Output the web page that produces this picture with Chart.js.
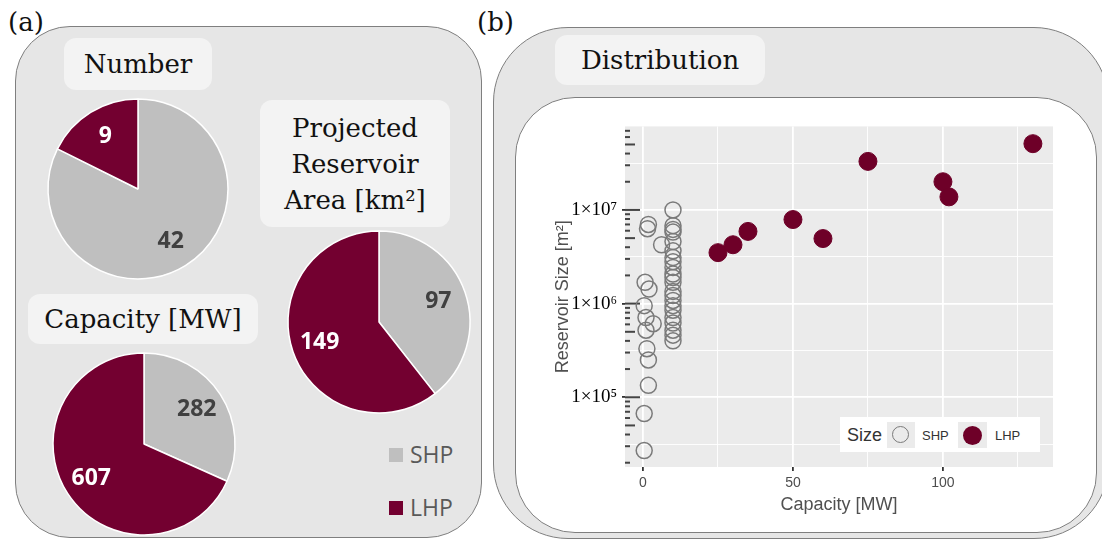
<!DOCTYPE html>
<html>
<head>
<meta charset="utf-8">
<script src="https://cdn.jsdelivr.net/npm/chart.js@4.4.1/dist/chart.umd.min.js"></script>
<style>
  body { margin: 0; width: 1102px; height: 540px; background: #fff; position: relative; overflow: hidden; font-family: 'Liberation Sans', Arial, sans-serif; }
  canvas { position: absolute; }
  .panel { position: absolute; background: #e6e6e6; border: 1.5px solid #7f7f7f; box-sizing: border-box; }
  .tag { position: absolute; font-family: 'DejaVu Serif', serif; font-size: 26px; line-height: 1; color: #111; }
  .box { position: absolute; background: #f3f3f3; border-radius: 12px; font-family: 'DejaVu Serif', serif; font-size: 26px; line-height: 36px; color: #111;
         display: flex; flex-direction: column; align-items: center; justify-content: center; text-align: center; }
  .leg { position: absolute; font-family: 'Open Sans', sans-serif; font-size: 23px; color: #595959; line-height: 1; }
  .sq { position: absolute; width: 14px; height: 14px; }
</style>
</head>
<body>

<div class="tag" style="left:8px; top:9px;">(a)</div>
<div class="tag" style="left:477px; top:9px;">(b)</div>

<div class="panel" style="left:15px; top:26px; width:467px; height:512px; border-radius:55px;"></div>
<div class="panel" style="left:493px; top:27px; width:616px; height:512px; border-radius:75px;"></div>
<div class="panel" style="left:515px; top:97px; width:582px; height:436px; border-radius:60px; background:#fff;"></div>

<div class="box" style="left:64px; top:38px; width:148px; height:52px;">Number</div>
<div class="box" style="left:28px; top:294px; width:230px; height:50px;">Capacity [MW]</div>
<div class="box" style="left:260px; top:100px; width:190px; height:127px;"><div>Projected</div><div>Reservoir</div><div>Area [km²]</div></div>
<div class="box" style="left:555px; top:35px; width:210px; height:50px;">Distribution</div>

<canvas id="pieNumber" width="200" height="200" style="left:38px; top:89px;"></canvas>
<canvas id="pieCapacity" width="200" height="200" style="left:44px; top:344px;"></canvas>
<canvas id="pieArea" width="200" height="200" style="left:279px; top:222px;"></canvas>

<div class="sq" style="left:389px; top:448px; background:#bfbfbf;"></div>
<div class="leg" style="left:410px; top:443px;">SHP</div>
<div class="sq" style="left:389px; top:501px; background:#730030;"></div>
<div class="leg" style="left:410px; top:496px;">LHP</div>

<canvas id="scatter" width="523" height="410" style="left:540px; top:110px;"></canvas>

<div style="position:absolute; left:840px; top:417px; width:200px; height:35px; background:#fff;"></div>
<div style="position:absolute; left:847px; top:425px; font-size:18px; color:#333;">Size</div>
<div style="position:absolute; left:887px; top:422px; width:28px; height:26px; background:#ebebeb;"></div>
<div style="position:absolute; left:892px; top:426px; width:15px; height:15px; border:1.5px solid #7a7a7a; border-radius:50%;"></div>
<div style="position:absolute; left:922px; top:428px; font-size:13px; color:#333;">SHP</div>
<div style="position:absolute; left:958px; top:422px; width:29px; height:26px; background:#ebebeb;"></div>
<div style="position:absolute; left:963px; top:426px; width:19px; height:19px; background:#6e0028; border-radius:50%;"></div>
<div style="position:absolute; left:995px; top:428px; font-size:13px; color:#333;">LHP</div>

<script>
// pie data (a)
const pieGroups = ['SHP', 'LHP'];
const numberValues = [42, 9];
const capacityValues = [282, 607];
const areaValues = [97, 149];

// scatter data (b): capacity [MW] and reservoir size [m2]
const shpCapacity = [1.8, 1.5, 6.2, 0.7, 2, 0.4, 1, 3.4, 1, 1.3, 1.8, 1.8, 0.4, 0.4,
                     10, 10, 10, 10, 10, 10, 10, 10, 10, 10, 10, 10, 10, 10, 10, 10, 10, 10, 10, 10, 10, 10];
const shpReservoir = [7.0e6, 6.3e6, 4.25e6, 1.69e6, 1.43e6, 9.5e5, 7.1e5, 6.1e5, 5.2e5, 3.3e5, 2.5e5, 1.34e5, 6.7e4, 2.7e4,
                      1.0e7, 6.8e6, 6.2e6, 5.8e6, 4.6e6, 3.66e6, 3.1e6, 2.8e6, 2.43e6, 2.07e6, 1.9e6, 1.69e6, 1.35e6, 1.22e6,
                      1.08e6, 9.5e5, 8.5e5, 7.1e5, 6.2e5, 5.2e5, 4.6e5, 4.0e5];
const lhpCapacity = [25, 30, 35, 50, 60, 75, 100, 102, 130];
const lhpReservoir = [3.5e6, 4.25e6, 5.9e6, 7.9e6, 4.95e6, 3.3e7, 2.0e7, 1.38e7, 5.1e7];

const xGridValues = [0, 25, 50, 75, 100, 125];
const xLabelValues = [0, 50, 100];
const yGridValues = [Math.pow(10, 4.5), 1e5, Math.pow(10, 5.5), 1e6, Math.pow(10, 6.5), 1e7, Math.pow(10, 7.5)];
const yLabelValues = [1e5, 1e6, 1e7];
const yTickLabels = ['1×10⁵', '1×10⁶', '1×10⁷'];

const SHP_COLOR = '#bfbfbf';
const LHP_COLOR = '#730030';

const sliceLabels = {
    id: 'sliceLabels',
    afterDatasetsDraw(chart) {
        const ctx = chart.ctx;
        const values = chart.data.datasets[0].data;
        const textColors = ['#404040', '#ffffff'];
        ctx.save();
        ctx.font = 'bold 23px "Open Sans"';
        ctx.textAlign = 'center';
        ctx.textBaseline = 'middle';
        chart.getDatasetMeta(0).data.forEach((arc, i) => {
            const p = arc.getProps(['x', 'y', 'startAngle', 'endAngle', 'outerRadius'], true);
            const mid = (p.startAngle + p.endAngle) / 2;
            const r = p.outerRadius * 0.69;
            ctx.fillStyle = textColors[i];
            ctx.fillText(values[i], p.x + Math.cos(mid) * r, p.y + Math.sin(mid) * r);
        });
        ctx.restore();
    }
};

const makePie = (id, values, radius) => {
    new Chart(document.getElementById(id), {
        type: 'pie',
        data: {
            labels: pieGroups,
            datasets: [{
                data: values,
                backgroundColor: [SHP_COLOR, LHP_COLOR],
                borderColor: '#ffffff',
                borderWidth: 1.5
            }]
        },
        options: {
            responsive: false,
            animation: false,
            radius: radius,
            layout: { padding: 0 },
            plugins: { legend: { display: false }, tooltip: { enabled: false } }
        },
        plugins: [sliceLabels]
    });
};

makePie('pieNumber', numberValues, 90);
makePie('pieCapacity', capacityValues, 91);
makePie('pieArea', areaValues, 91);

const panelBackground = {
    id: 'panelBackground',
    beforeDraw(chart) {
        const { ctx, chartArea: a } = chart;
        ctx.save();
        ctx.fillStyle = '#ebebeb';
        ctx.fillRect(a.left, a.top, a.right - a.left, a.bottom - a.top);
        ctx.restore();
    }
};

// log ticks along the left edge of the panel
const logTicks = {
    id: 'logTicks',
    beforeDatasetsDraw(chart) {
        const y = chart.scales.y;
        const left = chart.chartArea.left;
        const ctx = chart.ctx;
        ctx.save();
        ctx.strokeStyle = '#444';
        ctx.lineWidth = 2;
        for (let d = 4; d <= 7; d++) {
            for (let k = 1; k <= 9; k++) {
                const v = k * Math.pow(10, d);
                if (v < y.min || v > y.max) continue;
                const py = y.getPixelForValue(v);
                const len = k === 1 ? 15 : (k === 5 ? 10 : 5);
                ctx.beginPath();
                ctx.moveTo(left, py);
                ctx.lineTo(left + len, py);
                ctx.stroke();
            }
        }
        ctx.restore();
    }
};

const toPoints = (xs, ys) => xs.map((x, i) => ({ x: x, y: ys[i] }));

new Chart(document.getElementById('scatter'), {
    type: 'scatter',
    data: {
        datasets: [{
            label: 'SHP',
            data: toPoints(shpCapacity, shpReservoir),
            pointRadius: 8,
            pointBackgroundColor: 'rgba(0,0,0,0)',
            pointBorderColor: '#7a7a7a',
            pointBorderWidth: 1.5
        }, {
            label: 'LHP',
            data: toPoints(lhpCapacity, lhpReservoir),
            pointRadius: 9,
            pointBackgroundColor: '#6e0028',
            pointBorderColor: '#6e0028',
            pointBorderWidth: 1
        }]
    },
    options: {
        responsive: false,
        animation: false,
        layout: { padding: { top: 10, right: 7, left: 0, bottom: 0 } },
        plugins: { legend: { display: false }, tooltip: { enabled: false } },
        scales: {
            x: {
                type: 'linear',
                min: -6,
                max: 136.7,
                afterBuildTicks: s => { s.ticks = xGridValues.map(v => ({ value: v })); },
                afterFit: s => { s.height = 53; },
                border: { display: false },
                grid: {
                    color: '#ffffff',
                    lineWidth: c => xLabelValues.includes(c.tick.value) ? 1.8 : 0.9,
                    tickColor: c => xLabelValues.includes(c.tick.value) ? '#333' : 'rgba(0,0,0,0)',
                    tickLength: 4
                },
                ticks: {
                    autoSkip: false,
                    maxRotation: 0,
                    padding: 4,
                    color: '#4d4d4d',
                    font: { family: 'Liberation Sans', size: 14 },
                    callback: v => xLabelValues.includes(v) ? String(v) : ''
                },
                title: {
                    display: true,
                    text: 'Capacity [MW]',
                    color: '#505050',
                    font: { family: 'Liberation Sans', size: 18 },
                    padding: { top: 0, bottom: 4 }
                }
            },
            y: {
                type: 'logarithmic',
                min: 1.8e4,
                max: 7.8e7,
                afterBuildTicks: s => { s.ticks = yGridValues.map(v => ({ value: v })); },
                afterFit: s => { s.width = 85; },
                border: { display: false },
                grid: {
                    color: '#ffffff',
                    lineWidth: c => yLabelValues.includes(c.tick.value) ? 1.8 : 0.9,
                    tickColor: c => yLabelValues.includes(c.tick.value) ? '#333' : 'rgba(0,0,0,0)',
                    tickLength: 3
                },
                ticks: {
                    autoSkip: false,
                    padding: 5,
                    color: '#000',
                    font: { family: 'Liberation Serif', size: 19 },
                    callback: v => {
                        const i = yLabelValues.indexOf(v);
                        return i >= 0 ? yTickLabels[i] : '';
                    }
                },
                title: {
                    display: true,
                    text: 'Reservoir Size [m²]',
                    color: '#505050',
                    font: { family: 'Liberation Sans', size: 18 },
                    padding: { top: 12, bottom: 0 }
                }
            }
        }
    },
    plugins: [panelBackground, logTicks]
});
</script>
</body>
</html>
